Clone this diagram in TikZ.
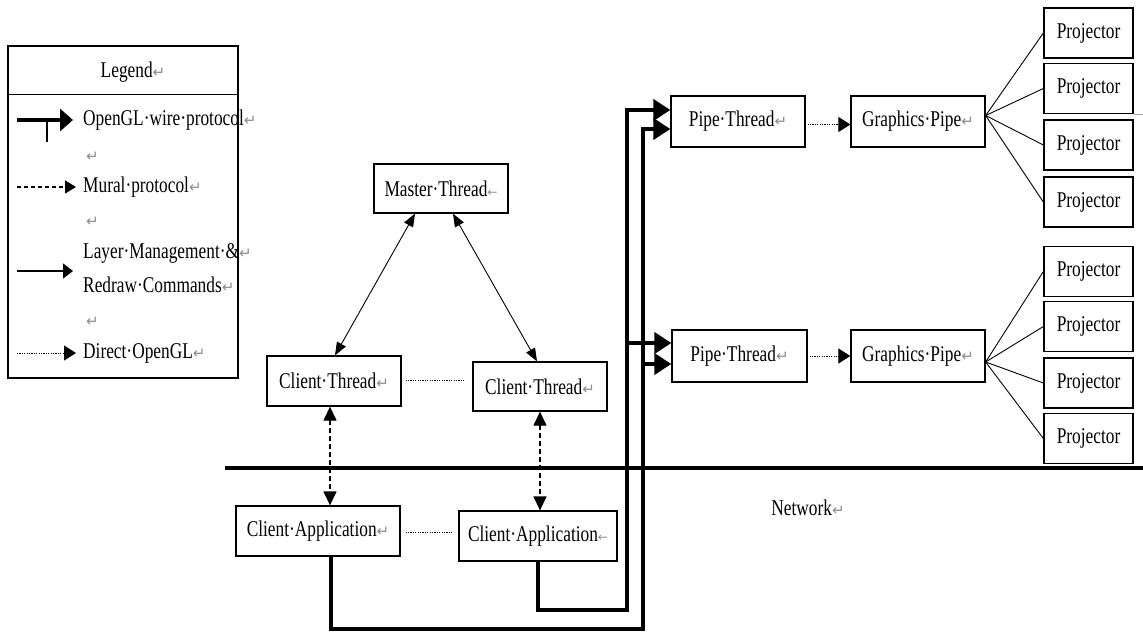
\documentclass[tikz,border=0pt]{standalone}
\usepackage{fontspec}
\setmainfont{Liberation Serif}[FakeStretch=0.77]
\newfontfamily\markfont{DejaVu Sans}
\usetikzlibrary{arrows.meta,calc}
% paragraph / line-end marks shown after the labels
\newcommand\retsym{{\markfont\fontsize{15}{15}\selectfont\color{black!45}↵}}
\newcommand\arrsym{{\markfont\fontsize{12}{12}\selectfont\color{black!45}←}}

\begin{document}
\begin{tikzpicture}[x=1pt,y=-1pt,
  every node/.style={font=\fontsize{22.5}{26}\selectfont, inner sep=0pt},
  box/.style={draw, line width=1.3pt, inner sep=0pt, minimum height=50pt},
  wire/.style={line width=4pt, line join=miter, -{Triangle[length=17pt,width=21pt]}},
  twoway/.style={line width=0.9pt, {Triangle[length=13pt,width=10pt]}-{Triangle[length=13pt,width=10pt]}},
  mural/.style={line width=1.3pt, dash pattern=on 5pt off 3pt,
    {Triangle[length=14pt,width=13pt]}-{Triangle[length=14pt,width=13pt]}},
  dotline/.style={line width=0.9pt, dash pattern=on 1.2pt off 1.2pt},
  direct/.style={dotline, -{Triangle[length=12pt,width=15pt]}},
  fan/.style={line width=0.9pt},
]
\useasboundingbox (0,0) rectangle (1143,632);

% ---------- legend ----------
\node[draw, line width=1.3pt, minimum width=230pt, minimum height=332pt] (legend) at (123,212) {};
\draw[line width=1.3pt] ($(legend.north west)+(0,49)$) -- ($(legend.north east)+(0,49)$);
\node (lgt) at (133,72) {Legend\retsym};

\node[anchor=west] (lg1)  at (83,120) {OpenGL·wire·protocol\retsym};
\node[anchor=west] (lgb1) at (86,157) {\retsym};
\node[anchor=west] (lg2)  at (83,187) {Mural·protocol\retsym};
\node[anchor=west] (lgb2) at (86,222) {\retsym};
\node[anchor=west] (lg3a) at (83,253) {Layer·Management·\&\retsym};
\node[anchor=west] (lg3b) at (83,285) {Redraw·Commands\retsym};
\node[anchor=west] (lgb3) at (86,322) {\retsym};
\node[anchor=west] (lg4)  at (83,353) {Direct·OpenGL\retsym};

\coordinate (k1s) at (17,120); \coordinate (k1e) at (73,120);
\coordinate (k1t) at (47,120); \coordinate (k1b) at (47,142);
\coordinate (k2s) at (17,187); \coordinate (k2e) at (76,187);
\coordinate (k3s) at (17,271); \coordinate (k3e) at (73,271);
\coordinate (k4s) at (17,353); \coordinate (k4e) at (76,353);
\draw[line width=4pt, -{Triangle[length=13pt,width=22pt]}] (k1s) -- (k1e);
\draw[line width=2.5pt] (k1t) -- (k1b);
\draw[line width=1.3pt, dash pattern=on 4pt off 3pt, -{Triangle[length=11pt,width=13pt]}] (k2s) -- (k2e);
\draw[line width=1.3pt, -{Triangle[length=10pt,width=15pt]}] (k3s) -- (k3e);
\draw[direct] (k4s) -- (k4e);

% ---------- threads and applications ----------
\node[box, minimum width=134pt, minimum height=49pt] (master) at (441,188.5) {Master·Thread\arrsym};
\node[box, minimum width=134pt] (ct1) at (334,381) {Client·Thread\retsym};
\node[box, minimum width=134pt, minimum height=49pt] (ct2) at (540,386.5) {Client·Thread\retsym};
\node[box, minimum width=164pt] (ca1) at (318,531) {Client·Application\retsym};
\node[box, minimum width=158pt] (ca2) at (538,536) {Client·Application\arrsym};

\draw[twoway] ($(master.south)+(-26,0)$) -- ($(ct1.north)+(1,0)$);
\draw[twoway] ($(master.south)+(12,0)$) -- ($(ct2.north)+(-3,0)$);
\draw[dotline, shorten <=4pt, shorten >=8pt] ($(ct1.east)+(0,-1)$) -- ($(ct1.east -| ct2.west)+(0,-1)$);
\draw[dotline, shorten <=5pt, shorten >=6pt] ($(ca1.east)+(0,1)$) -- ($(ca1.east -| ca2.west)+(0,1)$);
\draw[mural] ($(ct1.south)+(-4,0)$) -- ($(ca1.north)+(12,0)$);
\draw[mural] (ct2.south) -- (ct2.south |- ca2.north);

% ---------- network boundary ----------
\coordinate (netL) at (225,468);
\coordinate (netR) at (1143,468);
\draw[line width=4.5pt] (netL) -- (netR);
\node (net) at (808,508) {Network\retsym};

% ---------- pipes ----------
\node[box, minimum width=134pt, minimum height=51pt] (pt1) at (738,121.5) {Pipe·Thread\retsym};
\node[box, minimum width=135pt, minimum height=52pt] (pt2) at (739.5,356) {Pipe·Thread\retsym};
\node[box, minimum width=134pt, minimum height=51pt] (gp1) at (918,121.5) {Graphics·Pipe\retsym};
\node[box, minimum width=134pt, minimum height=52pt] (gp2) at (918,356) {Graphics·Pipe\retsym};

\draw[direct, shorten <=2pt] ($(pt1.east)+(0,3)$) -- ($(gp1.west)+(0,3)$);
\draw[direct, shorten <=2pt] (pt2.east) -- (gp2.west);

% ---------- projectors ----------
\foreach \n/\y in {p1/33,p2/88.5,p3/145,p4/202,p5/271.5,p6/326.5,p7/383,p8/438.5}
  \node[box, minimum width=89pt] (\n) at (1088.5,\y) {Projector};
\foreach \n in {p1,p2,p3,p4} \draw[fan] ($(gp1.east)+(0,-6)$) -- (\n.west);
\foreach \n in {p5,p6,p7,p8} \draw[fan] ($(gp2.east)+(0,6)$) -- (\n.west);
\draw[black!35, line width=1pt] (p2.south east) -- ++(10,0);

% ---------- OpenGL wire protocol paths ----------
\coordinate (busA) at (643,629);
\coordinate (busB) at (627,610);
\coordinate (in1a) at ($(pt1.west)+(0,-11.5)$);
\coordinate (in1b) at ($(pt1.west)+(0,7.5)$);
\coordinate (in2a) at ($(pt2.west)+(0,-13)$);
\coordinate (in2b) at ($(pt2.west)+(0,8)$);
\draw[wire] ($(ca1.south)+(13,0)$) |- (busA) |- (in1b);
\draw[wire] (in2b -| busA) -- (in2b);
\draw[wire] (ca2.south) |- (busB) |- (in1a);
\draw[wire] (in2a -| busB) -- (in2a);
\end{tikzpicture}
\end{document}
